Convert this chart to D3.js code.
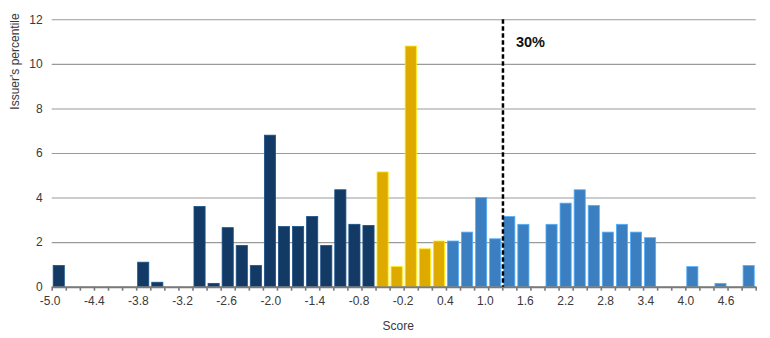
<!DOCTYPE html>
<html>
<head>
<meta charset="utf-8">
<script src="https://cdn.jsdelivr.net/npm/d3@7"></script>
<style>
  html, body { margin: 0; padding: 0; background: #fff; }
  svg { display: block; font-family: "Liberation Sans", Arial, Helvetica, sans-serif; }
</style>
</head>
<body>
<svg id="chart" width="770" height="338"></svg>
<script>
// Histogram bins: left edge of each 0.2-wide score bin
const binStarts = d3.range(50).map(i => +(-5 + i * 0.2).toFixed(1));
const binWidth = 0.2;

// Share of issuers (%) in each bin
const shares = [
  0.95, 0, 0, 0, 0, 0, 1.1, 0.2, 0, 0,
  3.6, 0.15, 2.65, 1.85, 0.95, 6.8, 2.7, 2.7, 3.15, 1.85,
  4.35, 2.8, 2.75, 5.15, 0.9, 10.8, 1.7, 2.05, 2.05, 2.45,
  4.0, 2.15, 3.15, 2.8, 0, 2.8, 3.75, 4.35, 3.65, 2.45,
  2.8, 2.45, 2.2, 0, 0, 0.9, 0, 0.15, 0, 0.95
];

// Score bands: below -0.4, -0.4 to 0.6, from 0.6 up
const bandNames = ["low", "mid", "high"];
const bandEdges = [-0.4, 0.6];
const bandColors = ["#123a64", "#deaa00", "#3b7fc0"];

// Axis ticks and labels
const xLabels = ["-5.0", "-4.4", "-3.8", "-3.2", "-2.6", "-2.0", "-1.4", "-0.8", "-0.2",
                 "0.4", "1.0", "1.6", "2.2", "2.8", "3.4", "4.0", "4.6"];
const yTicks = [0, 2, 4, 6, 8, 10, 12];

// Cut-off marker
const cutoffScore = 1.41;
const cutoffLabel = "30%";

const W = 770, H = 338;
const margin = { top: 19.3, right: 14.3, bottom: 51.3, left: 51.7 };

const svg = d3.select("#chart");

const x = d3.scaleLinear().domain([-5, 5]).range([margin.left, W - margin.right]);
const y = d3.scaleLinear().domain([0, 12]).range([H - margin.bottom, margin.top]);

const band = d3.scaleThreshold().domain(bandEdges).range(bandNames);
const color = d3.scaleOrdinal().domain(bandNames).range(bandColors);

// Horizontal gridlines with y labels
const yAxis = d3.axisLeft(y)
  .tickValues(yTicks)
  .tickSize(-(W - margin.left - margin.right))
  .tickPadding(9)
  .tickFormat(d3.format("d"));

const gy = svg.append("g")
  .attr("transform", `translate(${margin.left},0)`)
  .call(yAxis);
gy.select(".domain").remove();
gy.selectAll(".tick line").attr("stroke", "#9a9a9a").attr("stroke-width", 1.1);
gy.selectAll(".tick text")
  .attr("fill", "#3a3a3a")
  .style("font-size", "12px")
  .style("font-family", "'Liberation Sans', Arial, sans-serif");

// Bars
const data = binStarts.map((s, i) => ({ start: s, value: shares[i] }));
const binPx = x(binWidth) - x(0);
const barW = binPx * 0.79;

svg.append("g")
  .selectAll("rect")
  .data(data.filter(d => d.value > 0))
  .join("rect")
  .attr("x", d => x(d.start) + (binPx - barW) / 2)
  .attr("width", barW)
  .attr("y", d => y(d.value))
  .attr("height", d => y(0) - y(d.value))
  .attr("fill", d => color(band(d.start + 0.0001)))
  .attr("stroke", d => d3.color(color(band(d.start + 0.0001))).brighter(0.9))
  .attr("stroke-width", 0.8);

// Bottom axis: a tick at every bin edge
const xAxis = d3.axisBottom(x)
  .tickValues(d3.range(51).map(i => -5 + i * binWidth))
  .tickSize(4)
  .tickSizeOuter(0)
  .tickFormat("");

const gx = svg.append("g")
  .attr("transform", `translate(0,${y(0)})`)
  .call(xAxis);
gx.select(".domain").attr("stroke", "#7a7a7a").attr("stroke-width", 2);
gx.selectAll(".tick line").attr("stroke", "#7a7a7a").attr("stroke-width", 1.6);

// Score labels: first and last centred on their ticks, the rest spread with equal gaps
const labelG = svg.append("g");
const labels = labelG.selectAll("text")
  .data(xLabels)
  .join("text")
  .attr("y", y(0) + 18)
  .attr("text-anchor", "middle")
  .attr("fill", "#3a3a3a")
  .style("font-size", "12px")
  .text(d => d);

const widths = labels.nodes().map(n => n.getComputedTextLength());
const firstC = x(+xLabels[0]) - 1.5;
const lastC = x(+xLabels[xLabels.length - 1]) - 1.5;
let halfSum = 0;
for (let i = 0; i < widths.length - 1; i++) halfSum += (widths[i] + widths[i + 1]) / 2;
const gap = (lastC - firstC - halfSum) / (widths.length - 1);
const centres = [firstC];
for (let i = 1; i < widths.length; i++) {
  centres.push(centres[i - 1] + (widths[i - 1] + widths[i]) / 2 + gap);
}
labels.attr("x", (d, i) => centres[i]);

// Cut-off line
svg.append("line")
  .attr("x1", x(cutoffScore)).attr("x2", x(cutoffScore))
  .attr("y1", y(12)).attr("y2", y(0))
  .attr("stroke", "#000")
  .attr("stroke-width", 2.5)
  .attr("stroke-dasharray", "4.5,2.5");

svg.append("text")
  .attr("x", x(cutoffScore) + 13)
  .attr("y", y(12) + 28)
  .attr("fill", "#111")
  .style("font-size", "14.5px")
  .style("font-weight", "bold")
  .text(cutoffLabel);

// Axis titles
svg.append("text")
  .attr("x", (x(-5) + x(5)) / 2 - 5.5)
  .attr("y", H - 8)
  .attr("text-anchor", "middle")
  .attr("fill", "#3a3a3a")
  .style("font-size", "12px")
  .text("Score");

svg.append("text")
  .attr("transform", `translate(19,${y(12) - 6}) rotate(-90)`)
  .attr("text-anchor", "end")
  .attr("fill", "#3a3a3a")
  .style("font-size", "12px")
  .text("Issuer's percentile");
</script>
</body>
</html>
